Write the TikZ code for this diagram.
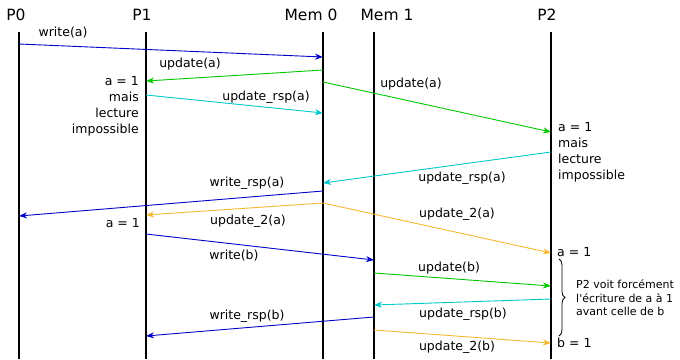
\documentclass[tikz,border=0pt]{standalone}
\usepackage{fontspec}
\setmainfont{DejaVu Sans}[Ligatures=TeXOff]
\usetikzlibrary{arrows.meta,decorations.pathreplacing}
\definecolor{mblue}{RGB}{0,0,200}
\definecolor{mgreen}{RGB}{0,200,0}
\definecolor{mcyan}{RGB}{0,200,200}
\definecolor{morange}{RGB}{245,185,50}
\begin{document}
\begin{tikzpicture}[x=1pt,y=-1pt,
  msg/.style={-{Stealth[length=8pt,width=6pt,inset=2.5pt]}, line width=0.9pt},
  life/.style={line width=1.1pt},
  lbl/.style={font=\fontsize{12.5}{15}\selectfont, inner sep=0pt},
  note/.style={font=\fontsize{12.5}{16}\selectfont, inner sep=0pt},
  small/.style={font=\fontsize{11}{13.6}\selectfont, inner sep=0pt, align=left},
  hdr/.style={font=\fontsize{15.5}{18}\selectfont, inner sep=0pt}]
\useasboundingbox (0,0) rectangle (680,359);
% headers
\node[hdr] (hP0) at (16,15) {P0};
\node[hdr] (hP1) at (142,15) {P1};
\node[hdr] (hM0) at (311,15) {Mem 0};
\node[hdr] (hM1) at (387,15) {Mem 1};
\node[hdr] (hP2) at (547,15) {P2};
% lifelines
\coordinate (P0t) at (19,32);  \coordinate (P0b) at (19,359);
\coordinate (P1t) at (146,32); \coordinate (P1b) at (146,359);
\coordinate (M0t) at (323,32); \coordinate (M0b) at (323,359);
\coordinate (M1t) at (374,32); \coordinate (M1b) at (374,359);
\coordinate (P2t) at (551,32); \coordinate (P2b) at (551,359);
\foreach \l in {P0,P1,M0,M1,P2} \draw[life] (\l t) -- (\l b);
% message end points
\coordinate (m1s) at (19,44);   \coordinate (m1e) at (323,57);
\coordinate (m2s) at (323,70);  \coordinate (m2e) at (146,81);
\coordinate (m3s) at (323,82);  \coordinate (m3e) at (551,132);
\coordinate (m4s) at (146,95);  \coordinate (m4e) at (323,113);
\coordinate (m5s) at (551,152); \coordinate (m5e) at (323,183);
\coordinate (m6s) at (323,191); \coordinate (m6e) at (19,216);
\coordinate (m7s) at (323,203); \coordinate (m7e) at (146,215);
\coordinate (m8e) at (551,253);
\coordinate (m9s) at (146,234); \coordinate (m9e) at (374,260);
\coordinate (m10s) at (374,273); \coordinate (m10e) at (551,286);
\coordinate (m11s) at (551,299); \coordinate (m11e) at (374,305);
\coordinate (m12s) at (374,317); \coordinate (m12e) at (146,336);
\coordinate (m13s) at (374,330); \coordinate (m13e) at (551,343);
% messages
\draw[msg, mblue]   (m1s) -- (m1e);
\draw[msg, mgreen]  (m2s) -- (m2e);
\draw[msg, mgreen]  (m3s) -- (m3e);
\draw[msg, mcyan]   (m4s) -- (m4e);
\draw[msg, mcyan]   (m5s) -- (m5e);
\draw[msg, mblue]   (m6s) -- (m6e);
\draw[msg, morange] (m7s) -- (m7e);
\draw[msg, morange] (m7s) -- (m8e);
\draw[msg, mblue]   (m9s) -- (m9e);
\draw[msg, mgreen]  (m10s) -- (m10e);
\draw[msg, mcyan]   (m11s) -- (m11e);
\draw[msg, mblue]   (m12s) -- (m12e);
\draw[msg, morange] (m13s) -- (m13e);
% labels
\node[lbl] (l1) at (63,33) {write(a)};
\node[lbl] (l2) at (190,64) {update(a)};
\node[lbl] (l3) at (411,84) {update(a)};
\node[lbl] (l4) at (266,97) {update\_rsp(a)};
\node[lbl] (l5) at (462,178) {update\_rsp(a)};
\node[lbl] (l6) at (247,183) {write\_rsp(a)};
\node[lbl] (l7) at (248,221) {update\_2(a)};
\node[lbl] (l8) at (457,214) {update\_2(a)};
\node[lbl] (l9) at (234,256) {write(b)};
\node[lbl] (l10) at (449,268) {update(b)};
\node[lbl] (l11) at (463,314) {update\_rsp(b)};
\node[lbl] (l12) at (247,316) {write\_rsp(b)};
\node[lbl] (l13) at (457,347) {update\_2(b)};
% annotations
\node[note, align=right, anchor=north east] (n1) at (139,76) {a = 1\\mais\\lecture\\impossible};
\node[note, align=left, anchor=north west] (n2) at (558,122) {a = 1\\mais\\lecture\\impossible};
\node[lbl, anchor=east] (n3) at (140,223) {a = 1};
\node[lbl, anchor=west] (n4) at (557,252) {a = 1};
\node[lbl, anchor=west] (n5) at (557,343) {b = 1};
% brace
\coordinate (bt) at (559,259); \coordinate (bb) at (559,336);
\draw[line width=0.8pt, decorate, decoration={brace, amplitude=6pt}] (bt) -- (bb);
\node[small, anchor=west] (n6) at (576,298) {P2 voit forcément\\l'écriture de a à 1\\avant celle de b};
\end{tikzpicture}
\end{document}
